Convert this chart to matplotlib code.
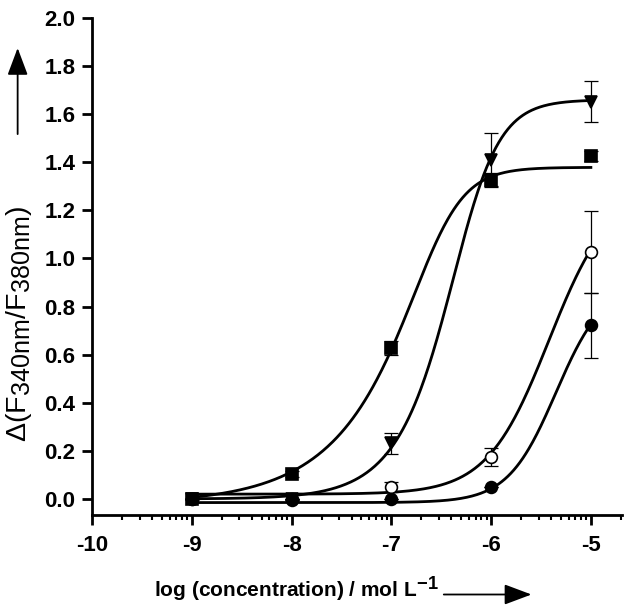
import numpy as np
import matplotlib
matplotlib.use("Agg")
import matplotlib.pyplot as plt
import matplotlib._mathtext as mathtext_internals

# the original uses larger sub/superscripts than matplotlib's default
mathtext_internals.SHRINK_FACTOR = 0.88

plt.rcParams['font.family'] = ['Liberation Sans', 'DejaVu Sans']
plt.rcParams['mathtext.fontset'] = 'custom'
plt.rcParams['mathtext.rm'] = 'Liberation Sans'
plt.rcParams['mathtext.it'] = 'Liberation Sans:italic'
plt.rcParams['mathtext.bf'] = 'Liberation Sans:bold'
plt.rcParams['axes.unicode_minus'] = False

# measured points (log concentration / mol L-1)
log_conc = [-9, -8, -7, -6, -5]

sq_mean = [0.0, 0.105, 0.627, 1.326, 1.426]
sq_err = [0.0, 0.012, 0.03, 0.03, 0.02]
tri_mean = [0.0, 0.0, 0.231, 1.41, 1.652]
tri_err = [0.0, 0.0, 0.045, 0.11, 0.085]
oc_mean = [0.0, 0.0, 0.051, 0.176, 1.028]
oc_err = [0.0, 0.0, 0.02, 0.037, 0.17]
fc_mean = [0.0, -0.004, 0.0, 0.051, 0.723]
fc_err = [0.0, 0.0, 0.0, 0.0, 0.135]

# fitted dose-response curves: bottom, top, logEC50, hill slope, asymmetry
sq_fit = (-0.02, 1.379, -6.54, 2.0, 0.35)
tri_fit = (0.0, 1.66, -6.265, 2.0, 0.6)
oc_fit = (0.02, 1.3, -5.42, 1.4, 1.0)
fc_fit = (-0.015, 0.9, -5.35, 1.8, 1.0)


def dose_response(x, bottom, top, ec50, hill, asym):
    return bottom + (top - bottom) / (1 + 10 ** ((ec50 - x) * hill)) ** asym


fig = plt.figure(figsize=(6.3, 6.11), dpi=100)
ax = fig.add_axes([0.146, 0.157, 0.841, 0.8135])

xs = np.linspace(-9, -5, 400)
for p in (sq_fit, tri_fit, oc_fit, fc_fit):
    ax.plot(xs, dose_response(xs, *p), color='black', lw=2.0, zorder=2)

series = [
    (sq_mean, sq_err, 's', 'black', 8),
    (tri_mean, tri_err, 'v', 'black', 9),
    (oc_mean, oc_err, 'o', 'white', 8.5),
    (fc_mean, fc_err, 'o', 'black', 8.5),
]
for mean, err, mk, face, ms in series:
    ax.errorbar(log_conc, mean, yerr=err, fmt='none', ecolor='black',
                elinewidth=0.9, capsize=5, capthick=0.9, zorder=3)
    ax.plot(log_conc, mean, linestyle='none', marker=mk, ms=ms,
            mfc=face, mec='black', mew=1.2, zorder=4)

ax.set_xlim(-10, -4.69)
ax.set_ylim(-0.067, 2.0)
ax.spines['top'].set_visible(False)
ax.spines['right'].set_visible(False)
for s in ('left', 'bottom'):
    ax.spines[s].set_linewidth(2)

ax.set_xticks([-10, -9, -8, -7, -6, -5])
minor = [d + np.log10(k) for d in range(-10, -4) for k in range(2, 10)]
ax.set_xticks([m for m in minor if m <= -4.69], minor=True)
yt = np.arange(0, 2.01, 0.2)
ax.set_yticks(yt)
ax.set_yticklabels([f'{v:.1f}' for v in yt])

ax.tick_params(axis='both', which='major', direction='out', length=7,
               width=2, labelsize=16)
ax.tick_params(axis='x', which='major', pad=7)
ax.tick_params(axis='y', which='major', pad=5)
ax.tick_params(axis='x', which='minor', direction='out', length=3.5, width=1.5)
for lab in ax.get_xticklabels() + ax.get_yticklabels():
    lab.set_fontweight('bold')

fig.text(0.245, 0.022, r'log (concentration) / mol L$^{\mathbf{-1}}$',
         ha='left', va='baseline', fontsize=15, fontweight='bold')
fig.text(0.03, 0.47, r'$\mathit{Δ}$(F$_{\mathrm{340nm}}$/F$_{\mathrm{380nm}}$)',
         ha='center', va='center', rotation=90, fontsize=20.5)

fig.add_artist(matplotlib.patches.FancyArrowPatch(
    (0.70, 0.027), (0.848, 0.027), transform=fig.transFigure,
    arrowstyle='-|>,head_length=1.2,head_width=0.45', mutation_scale=14,
    color='black', lw=1.3))
fig.add_artist(matplotlib.patches.FancyArrowPatch(
    (0.028, 0.776), (0.028, 0.926), transform=fig.transFigure,
    arrowstyle='-|>,head_length=1.2,head_width=0.45', mutation_scale=14,
    color='black', lw=1.3))

fig.savefig('out.png', dpi=100)
